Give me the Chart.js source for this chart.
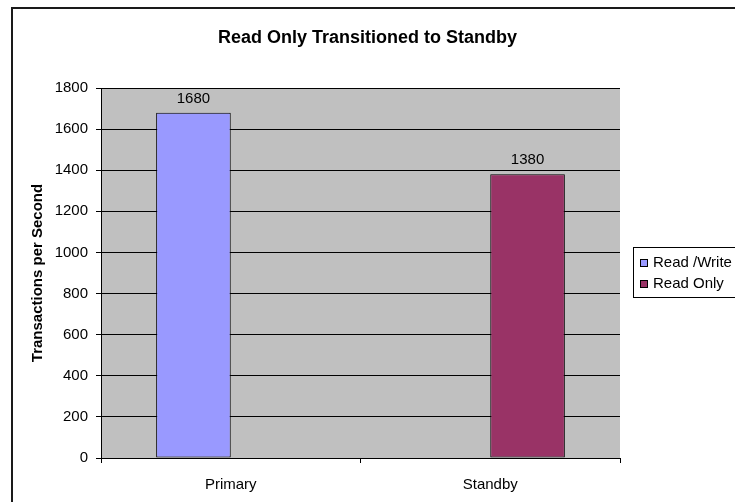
<!DOCTYPE html>
<html>
<head>
<meta charset="utf-8">
<script src="https://cdn.jsdelivr.net/npm/chart.js@4/dist/chart.umd.min.js"></script>
<style>
  html, body { margin: 0; padding: 0; background: #ffffff; }
  #wrap { position: relative; width: 735px; height: 502px; }
</style>
</head>
<body>
<div id="wrap"><canvas id="c" width="735" height="502"></canvas></div>
<script>
// Chart content
const chartTitle = 'Read Only Transitioned to Standby';
const yAxisTitle = 'Transactions per Second';
const categories = ['Primary', 'Standby'];
const seriesNames = ['Read /Write', 'Read Only'];
const readWriteValues = [1680, null];
const readOnlyValues = [null, 1380];
const yTickValues = [0, 200, 400, 600, 800, 1000, 1200, 1400, 1600, 1800];

const FONT = "'Liberation Sans', Arial, sans-serif";
const seriesColors = ['#9999FF', '#993366'];

// Gray plot background, outer frame, title, legend and value labels
const framePlugin = {
  id: 'frame',
  beforeDraw(chart) {
    const { ctx, chartArea: a } = chart;
    ctx.save();
    ctx.fillStyle = '#ffffff';
    ctx.fillRect(0, 0, chart.width, chart.height);
    ctx.fillStyle = '#C0C0C0';
    ctx.fillRect(a.left, a.top, a.right - a.left, a.bottom - a.top);
    ctx.strokeStyle = '#1a1a1a';
    ctx.lineWidth = 2;
    ctx.strokeRect(12, 8, chart.width + 40, chart.height + 40);
    ctx.restore();
  },
  afterDatasetsDraw(chart) {
    const { ctx } = chart;
    ctx.save();
    ctx.fillStyle = '#000';
    ctx.font = '15px ' + FONT;
    ctx.textAlign = 'center';
    ctx.textBaseline = 'alphabetic';
    chart.data.datasets.forEach((ds, di) => {
      const meta = chart.getDatasetMeta(di);
      meta.data.forEach((bar, i) => {
        const v = ds.data[i];
        if (v === null || v === undefined) return;
        ctx.fillText(String(v), bar.x, bar.y - 10);
      });
    });
    ctx.restore();
  },
  afterDraw(chart) {
    const { ctx } = chart;
    ctx.save();
    // title
    ctx.fillStyle = '#000';
    ctx.font = 'bold 18px ' + FONT;
    ctx.textAlign = 'center';
    ctx.textBaseline = 'alphabetic';
    ctx.fillText(chartTitle, chart.width / 2, 43);

    // legend
    const lx = 633.5, ly = 247.5, lh = 50;
    ctx.fillStyle = '#ffffff';
    ctx.fillRect(lx, ly, 140, lh);
    ctx.strokeStyle = '#000';
    ctx.lineWidth = 1;
    ctx.strokeRect(lx, ly, 140, lh);
    chart.data.datasets.forEach((ds, i) => {
      const cy = 263 + i * 21;
      ctx.fillStyle = ds.backgroundColor;
      ctx.fillRect(640, cy - 4, 8, 8);
      ctx.strokeStyle = '#000';
      ctx.strokeRect(640.5, cy - 3.5, 7, 7);
      ctx.fillStyle = '#000';
      ctx.font = '15px ' + FONT;
      ctx.textAlign = 'left';
      ctx.textBaseline = 'middle';
      ctx.fillText(ds.label, 653, cy);
    });
    ctx.restore();
  }
};

new Chart(document.getElementById('c'), {
  type: 'bar',
  data: {
    labels: categories,
    datasets: [
      {
        label: seriesNames[0],
        data: readWriteValues,
        backgroundColor: seriesColors[0],
        borderColor: '#000',
        borderWidth: 1,
        borderSkipped: false
      },
      {
        label: seriesNames[1],
        data: readOnlyValues,
        backgroundColor: seriesColors[1],
        borderColor: '#000',
        borderWidth: 1,
        borderSkipped: false
      }
    ]
  },
  options: {
    responsive: false,
    animation: false,
    devicePixelRatio: 1,
    datasets: {
      bar: { categoryPercentage: 0.575, barPercentage: 1.0 }
    },
    layout: { padding: { left: 0, top: 88, right: 115, bottom: 0 } },
    plugins: {
      legend: { display: false },
      title: { display: false },
      tooltip: { enabled: false }
    },
    scales: {
      x: {
        offset: true,
        grid: {
          display: true,
          offset: true,
          drawOnChartArea: false,
          drawTicks: true,
          tickLength: 5,
          color: '#000'
        },
        border: { display: true, color: '#000', width: 1 },
        ticks: { color: '#000', font: { family: FONT, size: 15 }, padding: 13 },
        afterFit(scale) { scale.height = 44; }
      },
      y: {
        min: 0,
        max: 1800,
        afterBuildTicks(scale) { scale.ticks = yTickValues.map(v => ({ value: v })); },
        grid: { color: '#000', tickLength: 5, drawTicks: true },
        border: { display: true, color: '#000', width: 1 },
        ticks: {
          color: '#000',
          font: { family: FONT, size: 15 },
          padding: 8,
          callback: (v) => String(v)
        },
        title: {
          display: true,
          text: yAxisTitle,
          color: '#000',
          font: { family: FONT, size: 15, weight: 'bold' },
          padding: { top: 29, bottom: 0 }
        },
        afterFit(scale) { scale.width = 101; }
      }
    }
  },
  plugins: [framePlugin]
});
</script>
</body>
</html>
